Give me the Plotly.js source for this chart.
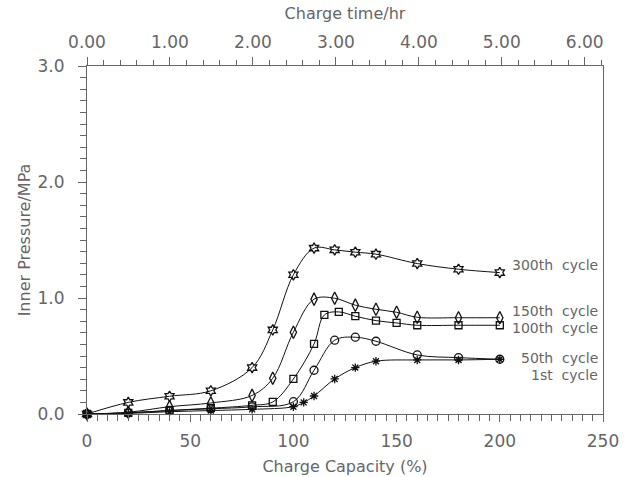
<!DOCTYPE html>
<html>
<head>
<meta charset="utf-8">
<script src="https://cdn.plot.ly/plotly-3.0.1.min.js"></script>
<style>html,body{margin:0;padding:0;background:#fff;}#chart{width:633px;height:477px;}</style>
</head>
<body>
<div id="chart"></div>
<script>
// Charge capacity (%) and inner pressure (MPa) per cycle
const x300 = [0, 20, 40, 60, 80, 90, 100, 110, 120, 130, 140, 160, 180, 200];
const y300 = [0, 0.10, 0.153, 0.20, 0.40, 0.725, 1.20, 1.43, 1.415, 1.395, 1.378, 1.297, 1.248, 1.219];

const x150 = [0, 20, 40, 60, 80, 90, 100, 110, 120, 130, 140, 150, 160, 180, 200];
const y150 = [0, 0.015, 0.063, 0.095, 0.16, 0.308, 0.705, 0.99, 0.998, 0.938, 0.903, 0.877, 0.834, 0.83, 0.83];

const x100 = [0, 20, 40, 60, 80, 90, 100, 110, 115, 122, 130, 140, 150, 160, 180, 200];
const y100 = [0, 0.01, 0.03, 0.05, 0.075, 0.104, 0.302, 0.604, 0.854, 0.88, 0.843, 0.805, 0.785, 0.765, 0.765, 0.765];

const x50 = [0, 20, 40, 60, 80, 100, 110, 120, 130, 140, 160, 180, 200];
const y50 = [0, 0.01, 0.03, 0.045, 0.062, 0.106, 0.377, 0.636, 0.662, 0.627, 0.509, 0.486, 0.472];

const x1 = [0, 20, 40, 60, 80, 100, 105, 110, 120, 130, 140, 160, 180, 200];
const y1 = [0, 0.005, 0.02, 0.03, 0.04, 0.063, 0.10, 0.155, 0.302, 0.40, 0.455, 0.466, 0.466, 0.472];

const seriesNames = ["300th  cycle", "150th  cycle", "100th  cycle", "50th  cycle", "1st  cycle"];
const labelY = [1.286, 0.89, 0.745, 0.485, 0.34];

const capTicks = [0, 50, 100, 150, 200, 250];
const timeTicks = [0, 1, 2, 3, 4, 5, 6];

const FONT = {family: "DejaVu Sans, sans-serif", size: 16, color: "#666"};
const TICKFONT = {family: "DejaVu Sans, sans-serif", size: 17, color: "#666"};

function tr(x, y, sym, size, name) {
  return {
    x: x, y: y, name: name, type: "scatter", mode: "lines+markers",
    line: {color: "#111", width: 1, shape: "spline", smoothing: 1},
    marker: {symbol: sym, size: size, color: "#111", line: {color: "#111", width: 1.3}},
    cliponaxis: false, showlegend: false
  };
}

const data = [
  tr(x300, y300, "hexagram-open", 8, seriesNames[0]),
  tr(x150, y150, "diamond-tall-open", 9, seriesNames[1]),
  tr(x100, y100, "square-open", 7, seriesNames[2]),
  tr(x50, y50, "circle-open", 8, seriesNames[3]),
  tr(x1, y1, "asterisk-open", 7, seriesNames[4]),
  {x: [], y: [], xaxis: "x2", yaxis: "y", type: "scatter", showlegend: false}
];

const annotations = seriesNames.map((n, i) => ({
  x: 248.5, y: labelY[i], xref: "x", yref: "y", text: n, showarrow: false,
  xanchor: "right", yanchor: "middle", font: {family: FONT.family, size: 14, color: "#666"}
}));

const axisCommon = {
  showgrid: false, zeroline: false, showline: true, linecolor: "#666", linewidth: 1,
  ticks: "outside", tickcolor: "#666", tickwidth: 1, tickfont: TICKFONT
};

const layout = {
  width: 633, height: 477,
  margin: {l: 87, r: 30, t: 66, b: 63},
  paper_bgcolor: "#fff", plot_bgcolor: "#fff",
  font: FONT,
  showlegend: false,
  xaxis: Object.assign({}, axisCommon, {
    range: [0, 250], tickvals: capTicks, ticklen: 7, ticklabelstandoff: 5,
    minor: {dtick: 5, ticklen: 6, ticks: "outside", tickcolor: "#666"},
    title: {text: "Charge Capacity (%)", font: FONT, standoff: 10},
    mirror: false
  }),
  xaxis2: Object.assign({}, axisCommon, {
    range: [0, 6.22], overlaying: "x", side: "top", anchor: "y",
    tickvals: timeTicks, tickformat: ".2f", ticklen: 8, ticklabelstandoff: 2,
    minor: {dtick: 0.2, ticklen: 5, ticks: "outside", tickcolor: "#666"},
    title: {text: "Charge time/hr", font: FONT, standoff: 8}
  }),
  yaxis: Object.assign({}, axisCommon, {
    range: [0, 3], dtick: 1, tickformat: ".1f", ticklen: 8, ticklabelstandoff: 10,
    minor: {dtick: 0.1, ticklen: 6, ticks: "outside", tickcolor: "#666"},
    mirror: true,
    title: {text: "Inner Pressure/MPa", font: FONT, standoff: 2}
  }),
  annotations: annotations
};

Plotly.newPlot("chart", data, layout, {staticPlot: true, displayModeBar: false});
</script>
</body>
</html>
